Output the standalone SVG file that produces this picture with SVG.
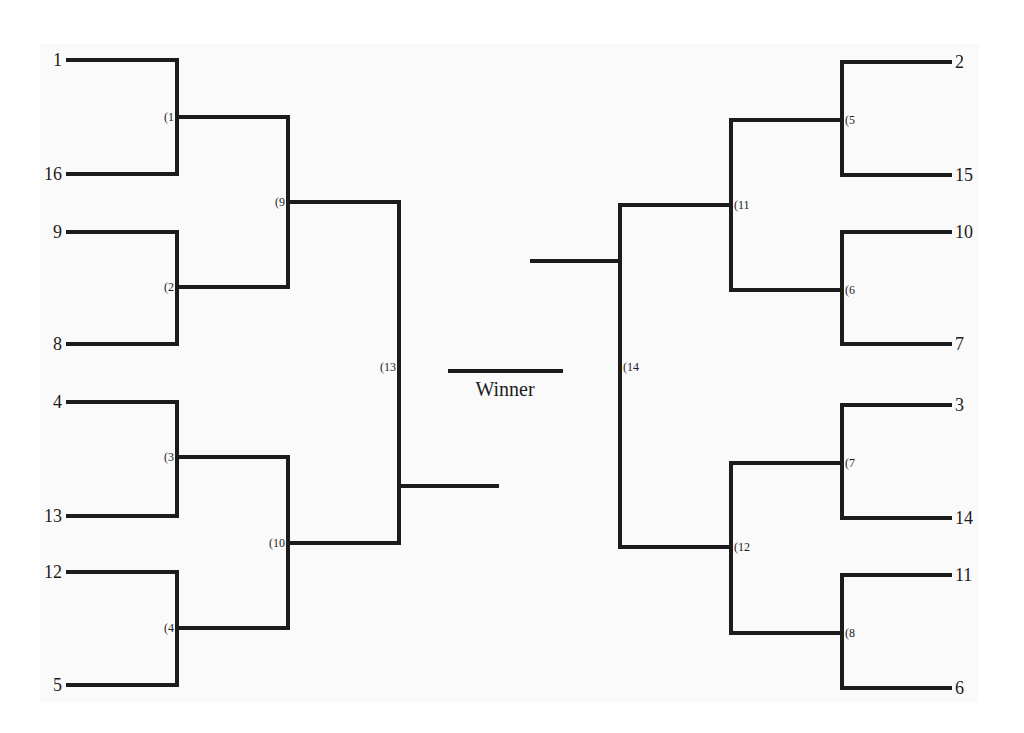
<svg xmlns="http://www.w3.org/2000/svg" width="1024" height="733" viewBox="0 0 1024 733">
<style>
.ln{fill:none;stroke:#1c1c1c;stroke-width:4;stroke-linecap:butt;stroke-linejoin:miter}
.seed{font-family:"Liberation Serif",serif;font-size:18px;fill:#1c1c1c}
.rd{font-family:"Liberation Serif",serif;font-size:12px;fill:#1c1c1c}
.win{font-family:"Liberation Serif",serif;font-size:20px;fill:#1c1c1c}
</style>
<rect x="0" y="0" width="1024" height="733" fill="#ffffff"/>
<rect x="40" y="44" width="939" height="659" fill="#fafafa"/>
<g id="connectors">
<path class="ln" d="M66,60H177V174H66"/>
<path class="ln" d="M66,232H177V344H66"/>
<path class="ln" d="M66,402H177V516H66"/>
<path class="ln" d="M66,572H177V685H66"/>
<path class="ln" d="M177,117H288V287H177"/>
<path class="ln" d="M177,457H288V628H177"/>
<path class="ln" d="M288,202H399V543H288"/>
<path class="ln" d="M399,486H499"/>
<path class="ln" d="M448,371H563"/>
<path class="ln" d="M530,261H620"/>
<path class="ln" d="M731,205H620V547H731"/>
<path class="ln" d="M842,120H731V290H842"/>
<path class="ln" d="M842,463H731V633H842"/>
<path class="ln" d="M952,62H842V175H952"/>
<path class="ln" d="M952,232H842V344H952"/>
<path class="ln" d="M952,405H842V518H952"/>
<path class="ln" d="M952,575H842V688H952"/>
</g>
<g id="seeds-left" class="seed" text-anchor="end">
<text id="s1" x="62" y="66">1</text>
<text id="s16" x="62" y="180">16</text>
<text id="s9" x="62" y="238">9</text>
<text id="s8" x="62" y="350">8</text>
<text id="s4" x="62" y="408">4</text>
<text id="s13" x="62" y="522">13</text>
<text id="s12" x="62" y="578">12</text>
<text id="s5" x="62" y="691">5</text>
</g>
<g id="seeds-right" class="seed">
<text id="s2" x="955" y="68">2</text>
<text id="s15" x="955" y="181">15</text>
<text id="s10" x="955" y="238">10</text>
<text id="s7" x="955" y="350">7</text>
<text id="s3" x="955" y="411">3</text>
<text id="s14" x="955" y="524">14</text>
<text id="s11" x="955" y="581">11</text>
<text id="s6" x="955" y="694">6</text>
</g>
<g id="rounds-left" class="rd" text-anchor="end">
<text id="g1" x="174" y="121">(1</text>
<text id="g2" x="174" y="291">(2</text>
<text id="g3" x="174" y="461">(3</text>
<text id="g4" x="174" y="632">(4</text>
<text id="g9" x="285" y="206">(9</text>
<text id="g10" x="285" y="547">(10</text>
<text id="g13" x="396" y="371">(13</text>
</g>
<g id="rounds-right" class="rd">
<text id="g5" x="845" y="124">(5</text>
<text id="g6" x="845" y="294">(6</text>
<text id="g7" x="845" y="467">(7</text>
<text id="g8" x="845" y="637">(8</text>
<text id="g11" x="734" y="209">(11</text>
<text id="g12" x="734" y="551">(12</text>
<text id="g14" x="623" y="371">(14</text>
</g>
<g id="winner">
<text class="win" x="505" y="396" text-anchor="middle">Winner</text>
</g>
</svg>
